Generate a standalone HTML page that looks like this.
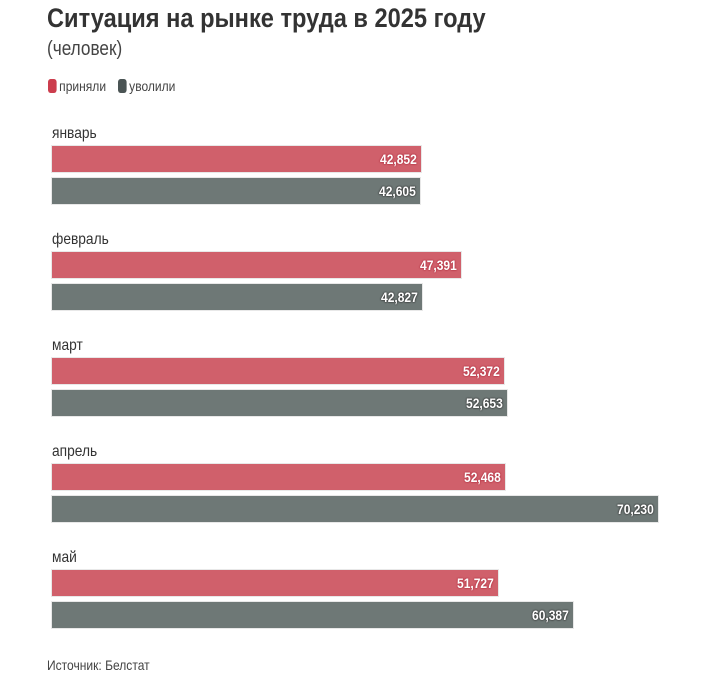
<!DOCTYPE html>
<html><head><meta charset="utf-8"><style>
body{margin:0;width:721px;height:688px;background:#fff;position:relative;font-family:"Liberation Sans",sans-serif;color:#333;overflow:hidden}
.x{transform-origin:0 0;transform:scaleX(0.86);white-space:nowrap}
.t{position:absolute;left:47px;top:3px;font-size:27px;font-weight:bold;color:#333;transform:scaleX(0.875)}
.s{position:absolute;left:47px;top:38px;font-size:20px;color:#444}
.lg{position:absolute;top:78px;font-size:14px;color:#444;display:flex;align-items:center}
.sw{width:10px;height:14px;border-radius:3px;margin-right:3px}
.m{position:absolute;left:52px;font-size:16px;color:#333}
.b{position:absolute;left:51px;height:28px;box-sizing:border-box;border:1px solid #e8e8e8}
.b span{position:absolute;right:4px;top:5px;font-size:14px;font-weight:bold;color:#fff;transform-origin:100% 0;transform:scaleX(0.86)}
.r{background:#d0606b}.r span{text-shadow:0 0 2px #b03040,0 0 2px #b03040}
.g{background:#6e7876}.g span{text-shadow:0 0 2px #333,0 0 2px #333}
.src{position:absolute;left:47px;top:657px;font-size:14px;color:#444}
</style></head><body>
<div class="t x">Ситуация на рынке труда в 2025 году</div>
<div class="s x">(человек)</div>
<div class="lg x" style="left:48px"><div class="sw" style="background:#cc3d4d"></div>приняли</div>
<div class="lg x" style="left:118px"><div class="sw" style="background:#4a5454"></div>уволили</div>

<div class="m x" style="top:125px">январь</div>
<div class="b r" style="top:145px;width:371px"><span>42,852</span></div>
<div class="b g" style="top:177px;width:370px"><span>42,605</span></div>

<div class="m x" style="top:231px">февраль</div>
<div class="b r" style="top:251px;width:411px"><span>47,391</span></div>
<div class="b g" style="top:283px;width:372px"><span>42,827</span></div>

<div class="m x" style="top:337px">март</div>
<div class="b r" style="top:357px;width:454px"><span>52,372</span></div>
<div class="b g" style="top:389px;width:457px"><span>52,653</span></div>

<div class="m x" style="top:443px">апрель</div>
<div class="b r" style="top:463px;width:455px"><span>52,468</span></div>
<div class="b g" style="top:495px;width:608px"><span>70,230</span></div>

<div class="m x" style="top:549px">май</div>
<div class="b r" style="top:569px;width:448px"><span>51,727</span></div>
<div class="b g" style="top:601px;width:523px"><span>60,387</span></div>

<div class="src x">Источник: Белстат</div>
</body></html>
